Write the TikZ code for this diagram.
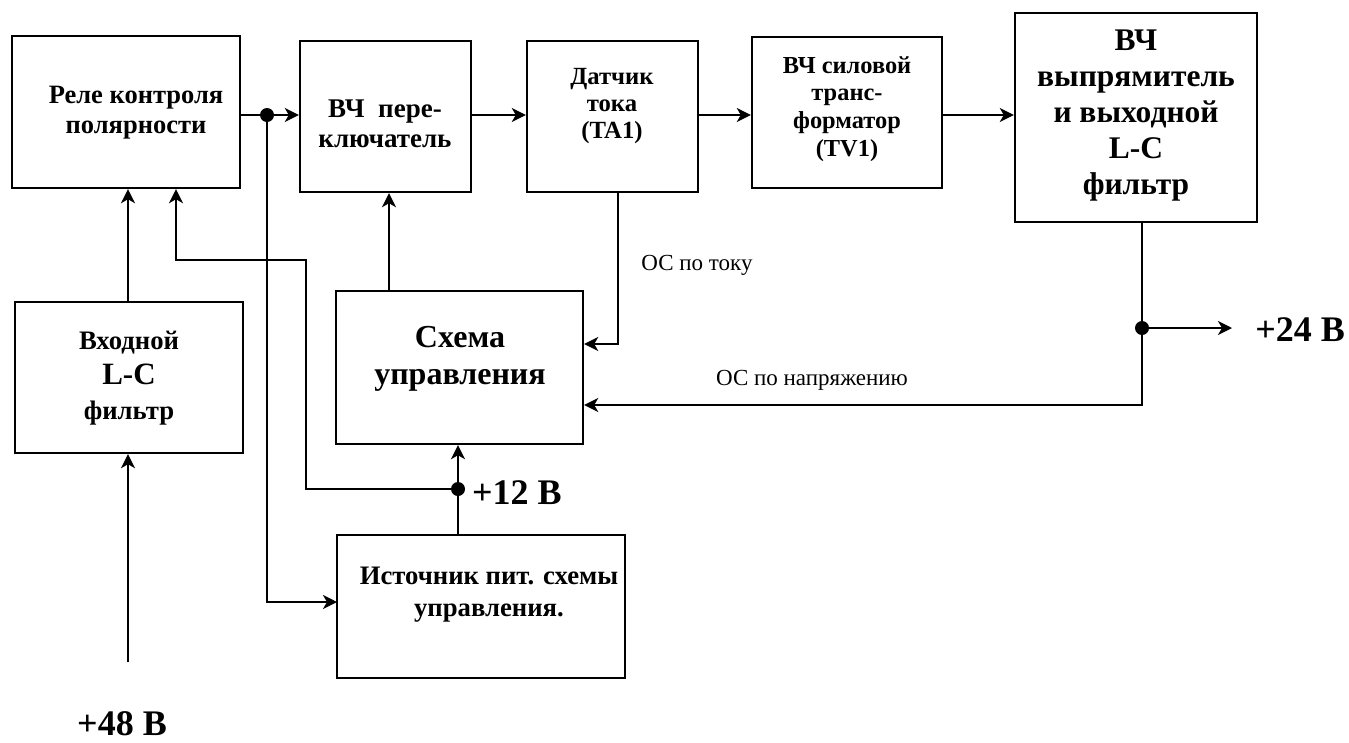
\documentclass[tikz,border=0pt]{standalone}
\usepackage{fontspec}
\setmainfont{Liberation Serif}
\usetikzlibrary{arrows.meta}
\tikzset{
  box/.style={draw, line width=2.4pt, rectangle, inner sep=0pt},
  btxt/.style={align=center, inner sep=0pt},
  conn/.style={line width=2.2pt},
  arr/.style={conn, -{Stealth[length=14pt,width=14pt,inset=4pt]}},
  jdot/.style={circle, fill=black, inner sep=0pt, minimum size=14pt},
  vlab/.style={font=\bfseries\fontsize{36}{40}\selectfont, inner sep=0pt},
  fb/.style={font=\fontsize{23}{26}\selectfont, inner sep=0pt}
}
\begin{document}
\begin{tikzpicture}[x=1pt,y=-1pt]
\useasboundingbox (0,0) rectangle (1349,742);
% boxes
\node[box, minimum width=228, minimum height=152] (relay) at (126,112) {};
\node[box, minimum width=171, minimum height=151] (sw) at (385.5,116.5) {};
\node[box, minimum width=171, minimum height=151] (dat) at (612.5,116.5) {};
\node[box, minimum width=190, minimum height=151] (tr) at (847,112.5) {};
\node[box, minimum width=242, minimum height=209] (rect) at (1136,117.5) {};
\node[box, minimum width=228, minimum height=151] (inf) at (129,377.5) {};
\node[box, minimum width=247, minimum height=153] (ctl) at (459.5,367.5) {};
\node[box, minimum width=288, minimum height=143] (src) at (481,606.5) {};
% texts
\node[btxt, font=\bfseries\fontsize{26.5}{30}\selectfont] (relayt) at (136,113) {Реле контроля\\полярности};
\node[btxt, font=\bfseries\fontsize{27}{30}\selectfont] (swt) at (385,124) {ВЧ\ \ пере-\\ключатель};
\node[btxt, font=\bfseries\fontsize{24.7}{27}\selectfont] (datt) at (612,106) {Датчик\\тока\\(TA1)};
\node[btxt, font=\bfseries\fontsize{24.4}{27.7}\selectfont] (trt) at (847,109) {ВЧ силовой\\транс-\\форматор\\(TV1)};
\node[btxt, font=\bfseries\fontsize{31.5}{36}\selectfont] (rectt) at (1136,116) {ВЧ\\выпрямитель\\и выходной\\L-C\\фильтр};
\node[btxt, font=\bfseries\fontsize{26.7}{35}\selectfont] (inft) at (129,378) {Входной\\{\fontsize{31}{35}\selectfont L-C}\\фильтр};
\node[btxt, font=\bfseries\fontsize{32}{37}\selectfont] (ctlt) at (460,359) {Схема\\управления};
\node[btxt, font=\bfseries\fontsize{26.7}{32}\selectfont] (srct) at (489,595) {Источник пит. схемы\\управления.};
% junctions and free ends
\node[jdot] (dA) at (267,115) {};
\node[jdot] (d12) at (458,489) {};
\node[jdot] (d24) at (1142,328) {};
\coordinate (srcin) at (337,602);
\coordinate (out24) at (1232,328);
\coordinate (vfb) at (1142,405);
\coordinate (ifb) at (618,344);
\coordinate (in48) at (128,662);
\coordinate (ra) at (306,489);
\coordinate (rb) at (306,260);
\coordinate (rc) at (176,260);
% connectors
\draw[conn] (relay.east |- dA) -- (dA);
\draw[arr] (dA) -- (sw.west |- dA);
\draw[arr] (dA) |- (srcin);
\draw[arr] (sw.east |- dA) -- (dat.west |- dA);
\draw[arr] (dat.east |- dA) -- (tr.west |- dA);
\draw[arr] (tr.east |- dA) -- (rect.west |- dA);
\draw[conn] (rect.south -| d24) -- (d24);
\draw[arr] (d24) -- (out24);
\draw[arr] (d24) -- (vfb) -- (ctl.east |- vfb);
\draw[arr] (dat.south -| ifb) -- (ifb) -- (ctl.east |- ifb);
\draw[arr] (ctl.north -| 389,0) -- (sw.south -| 389,0);
\draw[arr] (inf.north -| in48) -- (relay.south -| in48);
\draw[arr] (d12) -- (ra) -- (rb) -- (rc) -- (relay.south -| rc);
\draw[conn] (src.north -| d12) -- (d12);
\draw[arr] (d12) -- (ctl.south -| d12);
\draw[arr] (in48) -- (inf.south -| in48);
% labels
\node[vlab, anchor=west] (v12) at (472,493) {+12 В};
\node[vlab] (v24) at (1300,330) {+24 В};
\node[vlab] (v48) at (122,724) {+48 В};
\node[fb] (fbi) at (697,265) {ОС по току};
\node[fb] (fbv) at (812,380) {ОС по напряжению};
\end{tikzpicture}
\end{document}
